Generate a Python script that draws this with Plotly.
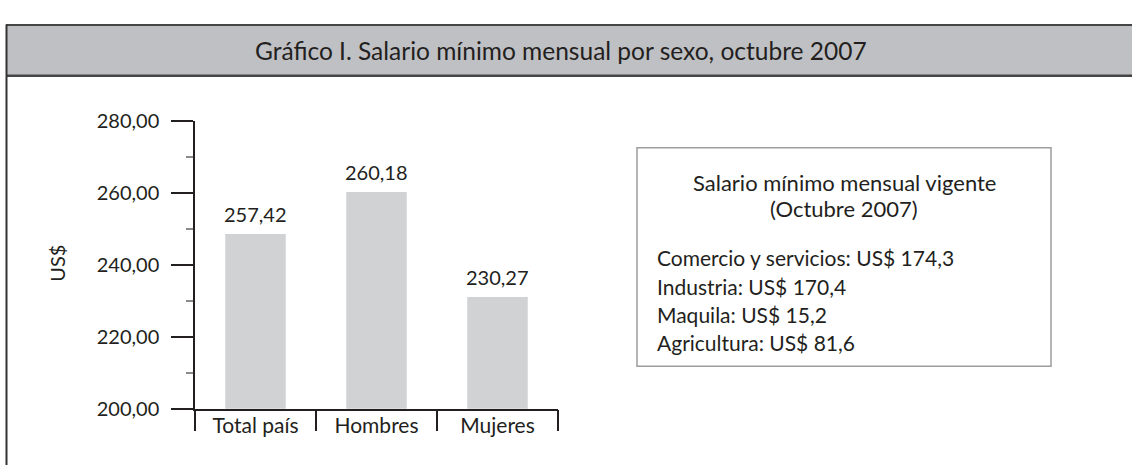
import plotly.graph_objects as go

W, H = 1132, 476

categories = ["Total país", "Hombres", "Mujeres"]
bar_values = [248.5, 260.2, 231.0]
bar_labels = ["257,42", "260,18", "230,27"]
y_tick_vals = [200, 220, 240, 260, 280]
y_tick_text = ["200,00", "220,00", "240,00", "260,00", "280,00"]
y_minor_vals = [210, 230, 250, 270]
title_text = "Gráfico I. Salario mínimo mensual por sexo, octubre 2007"
y_title = "US$"
info_heading = ["Salario mínimo mensual vigente", "(Octubre 2007)"]
info_lines = [
    "Comercio y servicios: US$ 174,3",
    "Industria: US$ 170,4",
    "Maquila: US$ 15,2",
    "Agricultura: US$ 81,6",
]

def px(x):
    return x / W

def py(y):
    return 1 - y / H

TXT = "#231f20"
FONT = "Lato, 'Open Sans', sans-serif"

fig = go.Figure(
    go.Bar(
        x=categories,
        y=bar_values,
        width=0.5,
        marker=dict(color="#d1d2d4", line=dict(width=0)),
        hoverinfo="skip",
    )
)

fig.update_layout(
    width=W,
    height=H,
    margin=dict(l=0, r=0, t=0, b=0),
    paper_bgcolor="white",
    plot_bgcolor="white",
    showlegend=False,
    font=dict(family=FONT, color=TXT, size=18),
    xaxis=dict(
        domain=[px(195), px(558)],
        range=[-0.5, 2.5],
        showline=True,
        linecolor=TXT,
        linewidth=1.5,
        ticks="outside",
        tickson="boundaries",
        ticklen=21,
        tickwidth=1.5,
        tickcolor=TXT,
        showgrid=False,
        zeroline=False,
        tickfont=dict(size=21, family=FONT, color=TXT),
        ticklabelstandoff=-3,
        fixedrange=True,
    ),
    yaxis=dict(
        domain=[py(416.7), py(113.3)],
        range=[200, 280],
        tickvals=y_tick_vals,
        ticktext=y_tick_text,
        showline=True,
        linecolor=TXT,
        linewidth=1.5,
        ticks="outside",
        ticklen=22,
        tickwidth=1.5,
        tickcolor=TXT,
        showgrid=False,
        zeroline=False,
        tickfont=dict(size=20, family=FONT, color=TXT),
        ticklabelstandoff=8,
        minor=dict(tickvals=y_minor_vals, ticks="outside", ticklen=7,
                   tickcolor="#8a8a8a", tickwidth=1.5, showgrid=False),
        fixedrange=True,
    ),
)

shapes = [
    # header band
    dict(type="rect", xref="paper", yref="paper", x0=px(6), x1=1.0,
         y0=py(66), y1=py(12.5), fillcolor="#bfc0c4", line=dict(width=0), layer="below"),
    dict(type="line", xref="paper", yref="paper", x0=px(6), x1=1.0,
         y0=py(12.7), y1=py(12.7), line=dict(color="#454545", width=2)),
    dict(type="line", xref="paper", yref="paper", x0=px(6), x1=1.0,
         y0=py(66), y1=py(66), line=dict(color="#454545", width=2.5)),
    dict(type="line", xref="paper", yref="paper", x0=px(6.5), x1=px(6.5),
         y0=py(12), y1=0, line=dict(color="#333333", width=2)),
    # info box
    dict(type="rect", xref="paper", yref="paper", x0=px(637), x1=px(1051),
         y0=py(372), y1=py(142), line=dict(color="#9d9d9d", width=1.5),
         fillcolor="rgba(0,0,0,0)"),
]

annotations = [
    dict(text=title_text, xref="paper", yref="paper", x=px(561), y=py(39),
         showarrow=False, xanchor="center", yanchor="middle",
         font=dict(family=FONT, size=24.5, color=TXT)),
    dict(text=y_title, xref="paper", yref="paper", x=px(57), y=py(264),
         showarrow=False, textangle=-90, xanchor="center", yanchor="middle",
         font=dict(family=FONT, size=20, color=TXT)),
]

for c, v, t in zip(categories, bar_values, bar_labels):
    annotations.append(dict(text=t, x=c, y=v, xref="x", yref="y", showarrow=False,
                            xanchor="center", yanchor="bottom", yshift=6,
                            font=dict(family=FONT, size=20, color=TXT)))

for i, t in enumerate(info_heading):
    annotations.append(dict(text=t, xref="paper", yref="paper", x=px(844),
                            y=py(178 + 28 * i), showarrow=False, xanchor="center",
                            yanchor="middle", font=dict(family=FONT, size=22, color=TXT)))

for i, t in enumerate(info_lines):
    annotations.append(dict(text=t, xref="paper", yref="paper", x=px(655),
                            y=py(258 + 29.5 * i), showarrow=False, xanchor="left",
                            yanchor="middle", font=dict(family=FONT, size=21, color=TXT)))

fig.update_layout(shapes=shapes, annotations=annotations)

fig.write_html(
    "out.html",
    config={"displayModeBar": False},
    post_script="document.body.style.margin='0';document.body.style.overflow='hidden';",
)
